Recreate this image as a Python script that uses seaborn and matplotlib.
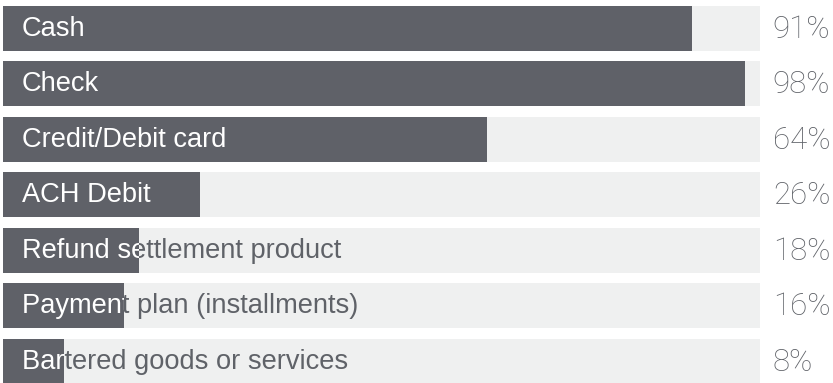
import matplotlib
matplotlib.use("Agg")
import matplotlib.pyplot as plt
import seaborn as sns
import pandas as pd

methods = ["Cash", "Check", "Credit/Debit card", "ACH Debit",
           "Refund settlement product", "Payment plan (installments)",
           "Bartered goods or services"]
shares = [91, 98, 64, 26, 18, 16, 8]
pct_labels = ["91%", "98%", "64%", "26%", "18%", "16%", "8%"]

DARK = "#5f6168"
TRACK = "#eff0f0"
TEXT_GRAY = "#5f6268"

df = pd.DataFrame({"method": methods, "share": shares, "full": [100] * len(methods)})

sns.set_theme(style="white")
plt.rcParams["font.family"] = ["Liberation Sans", "DejaVu Sans"]

fig = plt.figure(figsize=(8.33, 3.83), dpi=100)
W, H = 833, 383
ax = fig.add_axes([3 / W, 0, 757 / W, 1])

bar_w = 0.81
sns.barplot(data=df, y="method", x="full", color=TRACK, width=bar_w,
            saturation=1, ax=ax, orient="h")
n_track = len(ax.patches)
sns.barplot(data=df, y="method", x="share", color=DARK, width=bar_w,
            saturation=1, ax=ax, orient="h")
track_bars = ax.patches[:n_track]
value_bars = ax.patches[n_track:]

for p in track_bars:
    p.set_linewidth(0)
    p.set_zorder(1)
for p in value_bars:
    p.set_linewidth(0)
    p.set_zorder(3)

ax.set_xlim(0, 100)
ax.set_ylim(6.396, -0.505)
ax.set_axis_off()

for i, (name, lab) in enumerate(zip(methods, pct_labels)):
    # gray label on the track, white copy clipped to the value bar
    ax.text(2.5, i + 0.01, name, color=TEXT_GRAY, fontsize=19.6, va="center",
            ha="left", zorder=2)
    t = ax.text(2.5, i + 0.01, name, color="white", fontsize=19.6, va="center",
                ha="left", zorder=4, clip_on=True)
    t.set_clip_path(value_bars[i])
    ax.text(101.7, i + 0.02, lab, color=TEXT_GRAY, fontsize=22.5, va="center",
            ha="left", clip_on=False, fontfamily=["Roboto", "DejaVu Sans"],
            fontweight="light")

fig.savefig("out.png", dpi=100)
